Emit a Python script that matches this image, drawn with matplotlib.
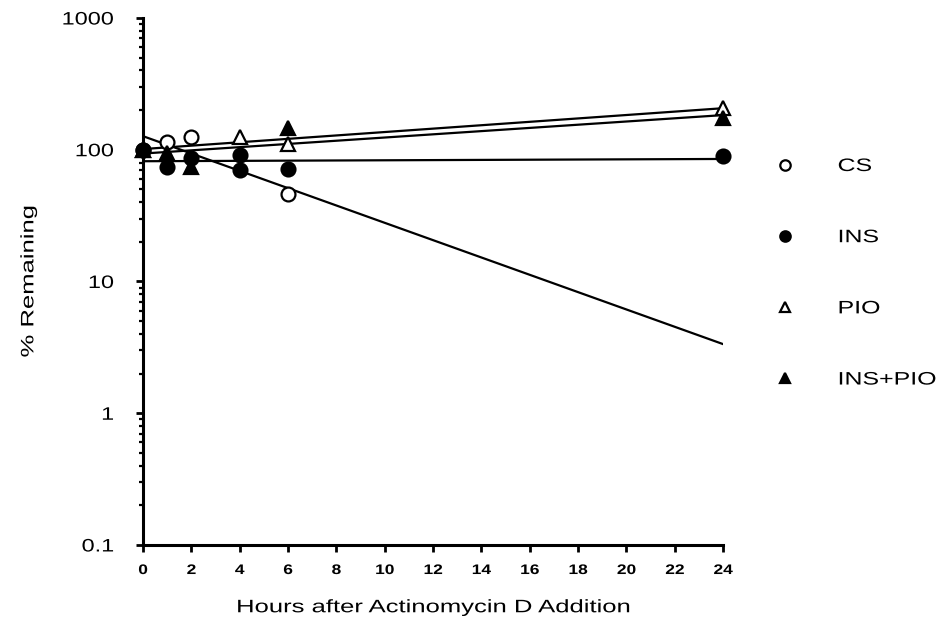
import numpy as np
import matplotlib
matplotlib.use("Agg")
import matplotlib.pyplot as plt
from matplotlib.ticker import LogLocator, FixedLocator, NullFormatter
from matplotlib.patheffects import AbstractPathEffect
from matplotlib.transforms import Affine2D

plt.rcParams['font.family'] = ['Liberation Sans', 'DejaVu Sans']

# % mRNA remaining after actinomycin D, per treatment
cs_hours = [0, 1, 2, 6]
cs_vals = [100, 115, 125, 46]

ins_hours = [0, 1, 2, 4, 4, 6, 24]
ins_vals = [100, 74, 87, 91, 70, 72, 89]

pio_hours = [0, 4, 6, 24]
pio_vals = [100, 125, 111, 208]

inspio_hours = [0, 1, 2, 6, 24]
inspio_vals = [100, 95, 74, 147, 175]

x_ticks = list(range(0, 26, 2))
y_ticks = [0.1, 1, 10, 100, 1000]
y_ticklabels = ['0.1', '1', '10', '100', '1000']

series = [
    ("CS", cs_hours, cs_vals, dict(marker='o', mfc='white', mec='black')),
    ("INS", ins_hours, ins_vals, dict(marker='o', mfc='black', mec='black')),
    ("PIO", pio_hours, pio_vals, dict(marker='^', mfc='white', mec='black')),
    ("INS+PIO", inspio_hours, inspio_vals, dict(marker='^', mfc='black', mec='black')),
]


class Stretch(AbstractPathEffect):
    """Widen glyphs horizontally around a pivot (0 = left, 0.5 = centre, 1 = right)."""

    def __init__(self, sx, anchor=0.0):
        super().__init__()
        self.sx = sx
        self.anchor = anchor

    def draw_path(self, renderer, gc, tpath, affine, rgbFace=None):
        xs = tpath.vertices[:, 0]
        pivot = self.anchor * xs.max() if len(xs) else 0.0
        t = Affine2D().translate(-pivot, 0).scale(self.sx, 1).translate(pivot, 0) + affine
        renderer.draw_path(gc, tpath, t, rgbFace)


fig = plt.figure(figsize=(9.44, 6.32), dpi=100)
ax = fig.add_axes([0.1515, 0.1377, 0.6145, 0.8338])

fit_x = np.array([0, 24])
for label, hrs, vals, style in series:
    # log-linear regression line for each treatment
    slope, icpt = np.polyfit(hrs, np.log10(vals), 1)
    ax.plot(fit_x, 10 ** (icpt + slope * fit_x), color='black', lw=1.6, zorder=2)
for label, hrs, vals, style in series:
    ax.plot(hrs, vals, ls='none', ms=10, mew=1.6, label=label, clip_on=False,
            zorder=3, **style)

ax.set_yscale('log')
ax.set_xlim(0, 24)
ax.set_ylim(0.1, 1000)

for side in ('top', 'right'):
    ax.spines[side].set_visible(False)
for side in ('left', 'bottom'):
    ax.spines[side].set_linewidth(2.2)

ax.xaxis.set_major_locator(FixedLocator(x_ticks))
ax.set_xticklabels([str(t) for t in x_ticks], fontsize=10, fontweight='bold')
ax.tick_params(axis='x', direction='out', length=5, width=2, pad=8)

ax.yaxis.set_major_locator(FixedLocator(y_ticks))
ax.set_yticklabels(y_ticklabels, fontsize=13)
ax.yaxis.set_minor_locator(LogLocator(base=10, subs=np.arange(2, 10)))
ax.yaxis.set_minor_formatter(NullFormatter())
ax.tick_params(axis='y', which='major', direction='out', length=5, width=2, pad=16)
ax.tick_params(axis='y', which='minor', direction='out', length=3, width=1.6)

ax.set_xlabel('Hours after Actinomycin D Addition', fontsize=13, labelpad=16,
              path_effects=[Stretch(1.42, 0.5)])
ax.set_ylabel('% Remaining', fontsize=13, labelpad=26,
              path_effects=[Stretch(1.42, 0.5)])

leg = ax.legend(loc='upper left', bbox_to_anchor=(1.079, 0.748), frameon=False,
                fontsize=13, labelspacing=3.0, handlelength=1.0, handletextpad=2.4,
                markerscale=0.75, borderaxespad=0)
for t in leg.get_texts():
    t.set_path_effects([Stretch(1.38, 0.0)])

# tick labels exist for sure only after a first draw
fig.canvas.draw()
for t in ax.get_xticklabels():
    t.set_path_effects([Stretch(1.25, 0.5)])
for t in ax.get_yticklabels():
    t.set_path_effects([Stretch(1.3, 1.0)])

fig.savefig('out.png', dpi=100)
